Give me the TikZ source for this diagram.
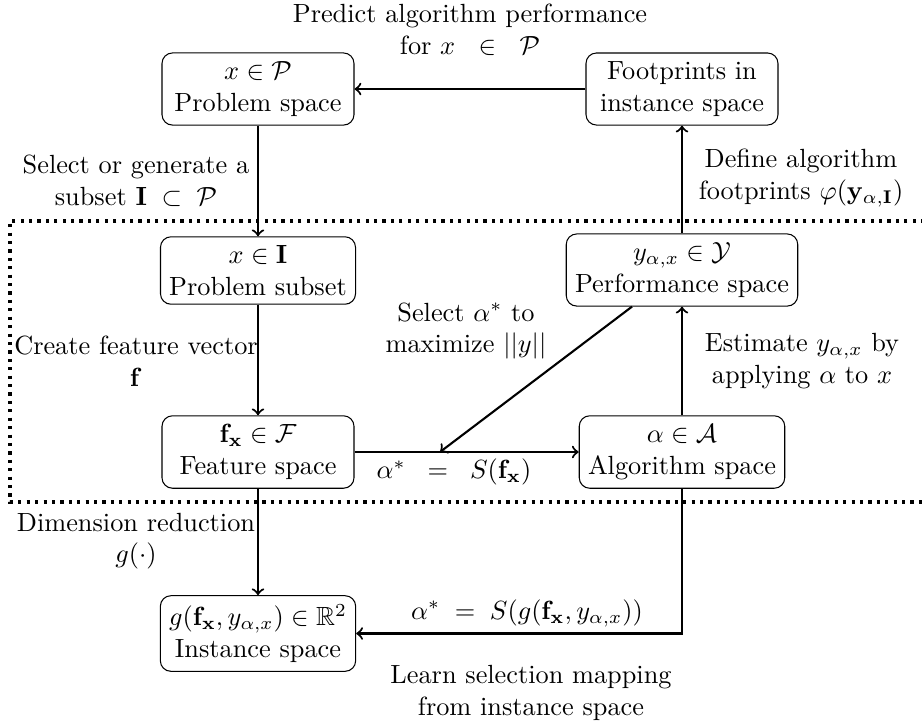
\documentclass[tikz,border=0pt]{standalone}
\usepackage{amsmath,amssymb}
\usetikzlibrary{calc}
\begin{document}
\begin{tikzpicture}[x=0.3802pt, y=-0.3802pt,
  box/.style={draw, rounded corners=4pt, align=center, minimum width=73pt, inner sep=3.33pt},
  lbl/.style={align=center, inner sep=0pt},
  arr/.style={->, thick},
  region/.style={very thick, dotted}]
\useasboundingbox (0,0) rectangle (922,727);

% dotted region
\begin{scope}
\clip (0,0) rectangle (922,727);
\draw[region] (1000,221) -- (10,221) -- (10,502) -- (1000,502);
\end{scope}

% nodes
\node[box] (ps) at (258,89) {$x \in \mathcal{P}$\\Problem space};
\node[box] (fp) at (682,89) {Footprints in\\instance space};
\node[box] (sub) at (258,270.5) {$x \in \mathbf{I}$\\Problem subset};
\node[box] (perf) at (682,270) {$y_{\alpha,x} \in \mathcal{Y}$\\Performance space};
\node[box] (feat) at (258,452) {$\mathbf{f}_\mathbf{x} \in \mathcal{F}$\\Feature space};
\node[box] (alg) at (682,452) {$\alpha \in \mathcal{A}$\\Algorithm space};
\node[box] (inst) at (258,633.5) {$g(\mathbf{f}_\mathbf{x}, y_{\alpha,x}) \in \mathbb{R}^2$\\Instance space};

% connectors
\coordinate (hit) at (440,452);
\draw[arr] (fp) -- (ps);
\draw[arr] (ps) -- (sub);
\draw[arr] (sub) -- (feat);
\draw[arr] (feat) -- (alg);
\draw[arr] (alg) -- (perf);
\draw[arr] (perf) -- (fp);
\draw[arr] ([xshift=-19pt]perf.south) -- (hit);
\draw[arr] (feat) -- (inst);
\draw[arr] (alg.south) |- (inst.east);

% labels
\node[lbl] (predict) at (470,30) {Predict algorithm performance\\for $x \mkern11mu\in\mkern11mu \mathcal{P}$};
\node[lbl] (select) at (136,181) {Select or generate a\\subset $\mathbf{I} \;\subset\; \mathcal{P}$};
\node[lbl] (create) at (136,361) {Create feature vector\\$\mathbf{f}$};
\node[lbl] (dimred) at (136,541) {Dimension reduction\\$g(\cdot)$};
\node[lbl] (define) at (801,178) {Define algorithm\\footprints $\varphi(\mathbf{y}_{\alpha,\mathbf{I}})$};
\node[lbl] (estimate) at (802,361) {Estimate $y_{\alpha,x}$ by\\applying $\alpha$ to $x$};
\node[lbl] (selmax) at (466,331) {Select $\alpha^*$ to\\maximize $||y||$};
\node[lbl] (alphas) at (454,472) {$\alpha^* \;\;=\;\; S(\mathbf{f}_\mathbf{x})$};
\node[lbl] (alphasg) at (527,613) {$\alpha^* \;=\; S(g(\mathbf{f}_\mathbf{x}, y_{\alpha,x}))$};
\node[lbl] (learn) at (531,693) {Learn selection mapping\\from instance space};
\end{tikzpicture}
\end{document}
